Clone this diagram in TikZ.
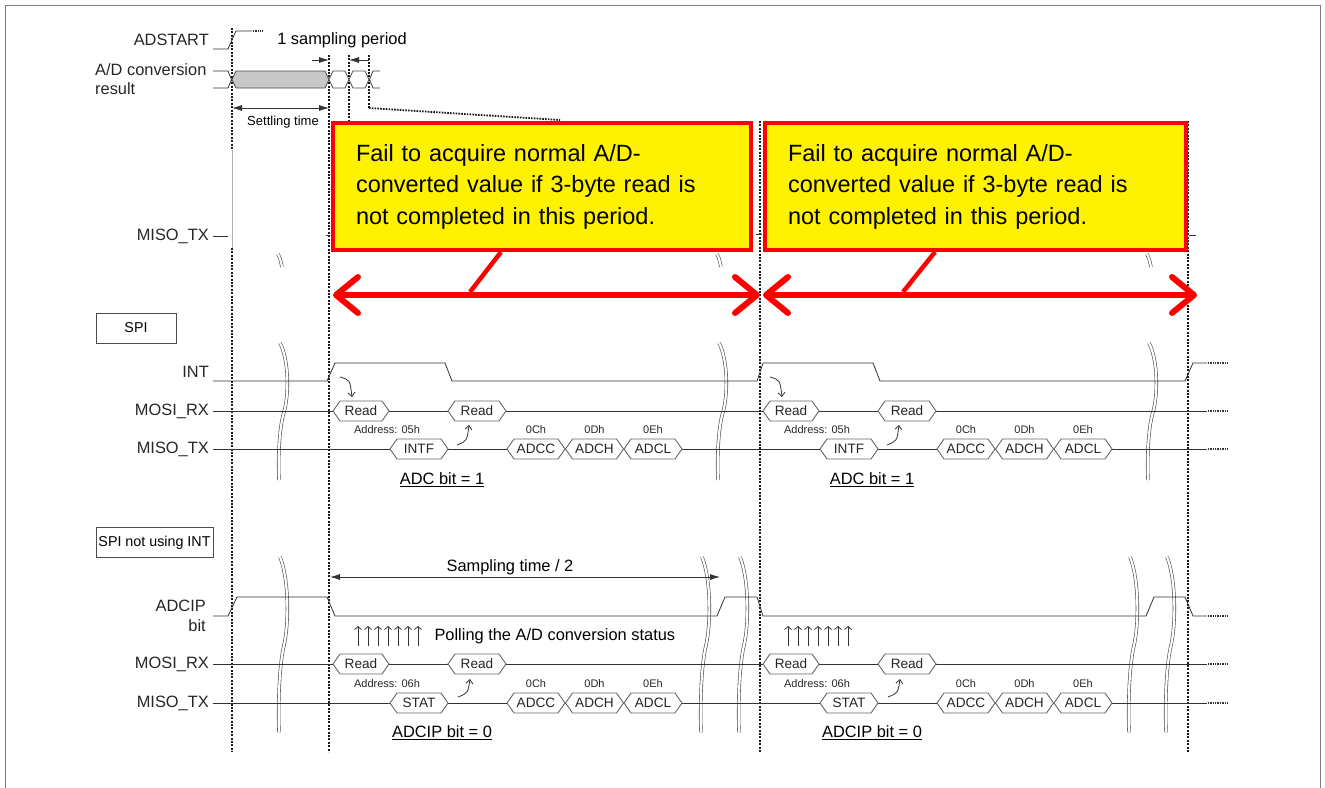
\documentclass[tikz,border=0pt]{standalone}
\usepackage{fontspec}
\setmainfont{Liberation Sans}
\usetikzlibrary{calc,positioning,arrows.meta,shapes.symbols}

\begin{document}
\begin{tikzpicture}[
    x=1pt, y=-1pt,
    font=\fontsize{16.4}{19}\selectfont,
    wave/.style = {draw=black!80, line width=0.8pt},
    tail/.style = {draw=black!80, line width=1.3pt, dash pattern=on 1pt off 0.7pt},
    guide/.style = {draw=black!90, line width=2.6pt, dash pattern=on 2pt off 1.4pt},
    siglabel/.style = {anchor=east, inner sep=4pt, text=black!85},
    busbox/.style = {
        shape=signal, signal to=west and east, signal pointer angle=110,
        draw=black!60, line width=0.9pt, fill=white,
        minimum height=20pt, minimum width=58pt, inner sep=0pt,
        font=\fontsize{13.6}{15}\selectfont, text=black!85
    },
    adbox/.style = {
        shape=signal, signal to=west and east, signal pointer angle=130,
        draw=black!70, line width=0.8pt, fill=white,
        minimum height=17pt, inner sep=0pt
    },
    tinylabel/.style = {font=\fontsize{11}{13}\selectfont, text=black!85},
    modebox/.style = {
        draw=black!70, line width=0.8pt, minimum height=30pt,
        inner sep=2pt, font=\fontsize{14.3}{16}\selectfont
    },
    brk/.style = {draw=black!70, double, double distance=2.2pt, line width=0.6pt},
    dimarrow/.style = {draw=black!80, line width=0.8pt},
    failbox/.style = {
        draw=red, line width=4pt, fill=yellow,
        minimum height=127pt, inner xsep=23pt, align=left,
        font=\fontsize{23.5}{31.5}\selectfont
    },
    redarrow/.style = {
        draw=red, line width=6pt,
        {Straight Barb[length=22pt, width=36pt, round]}-{Straight Barb[length=22pt, width=36pt, round]}
    },
    pointer/.style = {draw=red, line width=4.5pt}
]
\useasboundingbox (0,0) rectangle (1325,787);

% --- Cadre ---
\draw[gray, line width=1pt] (5,795) -- (5,5) -- (1320,5) -- (1320,795);

% --- Lignes de repere (pointilles) ---
\draw[guide] (232,28) -- (232,150);
\draw[black!30, line width=0.4pt] (232,150) -- (232,248);
\draw[guide] (232,248) -- (232,752);
\draw[guide] (329,55) -- (329,752);
\draw[guide] (349,55) -- (349,121);
\draw[guide] (369,55) -- (369,108);
\draw[black!90, line width=1.8pt, dash pattern=on 1.6pt off 1.2pt] (369,108) -- (560,120);
\draw[guide] (760,121) -- (760,752);
\draw[guide] (1188,121) -- (1188,752);

% --- ADSTART et resultat A/D ---
\node[siglabel] (adstartL) at (213,40) {ADSTART};
\draw[wave] (213,49) -- (228,49) -- (236,31) -- (252,31);
\draw[tail] (253,31) -- (263,31);

\node[anchor=west, align=left, inner sep=4pt, text=black!85] (adresL) at (91,79.5) {A/D conversion\\result};
\node[adbox, fill=black!22, minimum width=97pt] (adGray) at (280.5,79.5) {};
\node[adbox, minimum width=20pt] (adS1) at (339,79.5) {};
\node[adbox, minimum width=20pt] (adS2) at (359,79.5) {};
\draw[wave] (213,71) -- (228,71) -- (adGray.west) -- (228,88) -- (213,88);
\draw[wave] (380,71) -- (373,71) -- (adS2.east) -- (373,88) -- (380,88);

\node (periodL) at (342,40) {1 sampling period};
\draw[dimarrow, -{Latex[length=10pt,width=6pt]}] (312,60) -- (329,60);
\draw[dimarrow, -{Latex[length=10pt,width=6pt]}] (369,60) -- (349,60);

\draw[dimarrow, {Latex[length=10pt,width=6pt]}-{Latex[length=10pt,width=6pt]}] (232,108) -- (329,108);
\node[font=\fontsize{13}{15}\selectfont] (settleL) at (283,122) {Settling time};

% --- MISO_TX (masque) ---
\node[siglabel] (misoTopL) at (213,236) {MISO\_TX};
\draw[wave] (213,236) -- (228,236);
\draw[wave] (326,235) -- (330,235);
\draw[wave] (756,234) -- (762,234);
\draw[wave] (1189,235) -- (1196,235);
\foreach \bx in {278,717,1147}
    \draw[brk] (\bx,254) .. controls (\bx+2,258) .. (\bx+4,267);

% --- Coupures ---
\foreach \bx in {283,722,1152}
    \draw[brk, shift={(\bx,343)}] (-3,0) .. controls (6,17) and (6,52) .. (1,69)
        .. controls (-4,85) and (-5,117) .. (-4,137);
\foreach \bx in {283,705,743,1133,1170}
    \draw[brk, shift={(\bx,557)}, yscale=1.28] (-3,0) .. controls (6,17) and (6,52) .. (1,69)
        .. controls (-4,85) and (-5,117) .. (-4,137);

% --- SPI ---
\node[modebox, minimum width=80pt] (spiBox) at (136,328) {SPI};

\node[siglabel] (intL) at (213,372) {INT};
\node[siglabel] (mosiL) at (213,411) {MOSI\_RX};
\node[siglabel] (misoL) at (213,449) {MISO\_TX};

\draw[wave] (213,381) -- (327,381) -- (335,363) -- (445,363) -- (452,381) -- (757,381)
    -- (763,363) -- (873,363) -- (880,381) -- (1185,381) -- (1193,363) -- (1207,363);
\draw[wave] (213,411) -- (1207,411);
\draw[wave] (213,449) -- (1207,449);
\foreach \y in {363,411,449}
    \draw[tail] (1208,\y) -- (1228,\y);

\foreach \o/\s in {0/a,430/b} {
    \node[busbox, minimum width=56pt] (rdOne\s) at (361+\o,411) {Read};
    \node[busbox] (rdTwo\s) at (477+\o,411) {Read};
    \node[busbox] (intf\s) at (419+\o,449) {INTF};
    \node[busbox] (adcc\s) at (536+\o,449) {ADCC};
    \node[busbox] (adch\s) at (594.5+\o,449) {ADCH};
    \node[busbox] (adcl\s) at (653+\o,449) {ADCL};
    \node[tinylabel] at (387+\o,430) {Address: 05h};
    \node[tinylabel] at (536+\o,430) {0Ch};
    \node[tinylabel] at (594.5+\o,430) {0Dh};
    \node[tinylabel] at (653+\o,430) {0Eh};
    \node (adcBit\s) at (442+\o,480) {\underline{ADC bit = 1}};
    \draw[wave, -{Straight Barb[length=4pt,width=7pt]}] (340+\o,377) .. controls (350+\o,380) .. (352+\o,397);
    \draw[wave, -{Straight Barb[length=4pt,width=7pt]}] (457+\o,445) .. controls (467+\o,441) .. (469+\o,425);
}

% --- SPI sans INT ---
\node[modebox, minimum width=117pt] (spiNoIntBox) at (154.5,542.5) {SPI not using INT};

\draw[dimarrow, {Latex[length=10pt,width=6pt]}-{Latex[length=10pt,width=6pt]}] (330,577) -- (720,577);
\node (sampL) at (510,567) {Sampling time / 2};

\node[siglabel, align=right, font=\fontsize{16.4}{20}\selectfont] (adcipL) at (210,616) {ADCIP\\bit};
\node[siglabel] (mosiBL) at (213,664) {MOSI\_RX};
\node[siglabel] (misoBL) at (213,703) {MISO\_TX};

\draw[wave] (213,616) -- (228,616) -- (237,597) -- (327,597) -- (335,616) -- (717,616)
    -- (725,597) -- (757,597) -- (763,616) -- (1146,616) -- (1154,597) -- (1185,597)
    -- (1193,616) -- (1207,616);
\draw[wave] (213,664) -- (1207,664);
\draw[wave] (213,703) -- (1207,703);
\foreach \y in {616,664,703}
    \draw[tail] (1208,\y) -- (1228,\y);

\node[anchor=west] (pollL) at (431,636) {Polling the A/D conversion status};

\foreach \o/\s in {0/a,430/b} {
    \foreach \i in {0,...,6}
        \draw[wave, -{Straight Barb[length=3pt,width=7pt]}] (358+\o+10*\i,646) -- ++(0,-20);
    \node[busbox, minimum width=56pt] (rdThree\s) at (361+\o,664) {Read};
    \node[busbox] (rdFour\s) at (477+\o,664) {Read};
    \node[busbox] (stat\s) at (419+\o,703) {STAT};
    \node[busbox] (adccB\s) at (536+\o,703) {ADCC};
    \node[busbox] (adchB\s) at (594.5+\o,703) {ADCH};
    \node[busbox] (adclB\s) at (653+\o,703) {ADCL};
    \node[tinylabel] at (387+\o,684) {Address: 06h};
    \node[tinylabel] at (536+\o,684) {0Ch};
    \node[tinylabel] at (594.5+\o,684) {0Dh};
    \node[tinylabel] at (653+\o,684) {0Eh};
    \node (adcipBit\s) at (442+\o,733) {\underline{ADCIP bit = 0}};
    \draw[wave, -{Straight Barb[length=4pt,width=7pt]}] (458+\o,697) .. controls (468+\o,693) .. (470+\o,679);
}

% --- Encadres d'avertissement ---
\node[failbox, minimum width=418pt, text width=372pt] (failA) at (542,186.5)
    {Fail to acquire normal A/D-\\converted value if 3-byte read is\\not completed in this period.};
\node[failbox, minimum width=421pt, text width=375pt] (failB) at (975.5,186.5)
    {Fail to acquire normal A/D-\\converted value if 3-byte read is\\not completed in this period.};

\coordinate (spanAl) at (333,295);
\coordinate (spanAr) at (760,295);
\coordinate (spanBl) at (763,295);
\coordinate (spanBr) at (1197,295);
\draw[redarrow] (spanAl) -- (spanAr);
\draw[redarrow] (spanBl) -- (spanBr);

\coordinate (hitA) at (470,292);
\coordinate (hitB) at (903,292);
\draw[pointer] ($(failA.south west)+(170,0)$) -- (hitA);
\draw[pointer] ($(failB.south west)+(172,0)$) -- (hitB);

\end{tikzpicture}
\end{document}
